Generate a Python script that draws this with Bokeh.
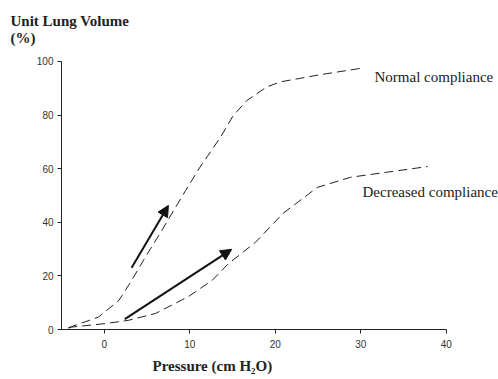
from bokeh.plotting import figure
from bokeh.models import Label, Arrow, NormalHead, Range1d, FixedTicker, Title
from bokeh.embed import file_html
from bokeh.resources import INLINE

# Data
normal_x = [-4.2, -3.8, -0.7, 1.7, 3.2, 4.8, 6.7, 9.5, 11.2, 13.6, 15.1, 16.7, 19.0, 20.6, 25.3, 29.9]
normal_y = [0.7, 1.1, 4.6, 10.8, 18.3, 27.0, 36.8, 51.8, 60.6, 71.8, 79.9, 85.5, 90.5, 92.4, 95.1, 97.4]
decreased_x = [-4.2, -3.8, 0.1, 2.8, 6.0, 9.8, 12.6, 14.5, 17.7, 20.9, 24.9, 28.8, 37.8]
decreased_y = [0.5, 0.9, 2.2, 3.4, 6.0, 12.2, 18.3, 24.5, 32.6, 43.3, 53.0, 56.8, 60.8]
x_ticks = [0, 10, 20, 30, 40]
y_ticks = [0, 20, 40, 60, 80, 100]
arrow_normal = (3.2, 23.0, 7.5, 46.3)
arrow_decreased = (2.4, 3.9, 14.9, 29.9)

p = figure(width=498, height=379, output_backend="svg", toolbar_location=None,
           x_range=Range1d(-5, 46.1), y_range=Range1d(0, 104.85),
           min_border_left=61, min_border_right=0, min_border_top=48, min_border_bottom=50)
p.outline_line_color = None
p.xgrid.visible = False
p.ygrid.visible = False
p.background_fill_color = "white"

for ax, ticks in ((p.xaxis, x_ticks), (p.yaxis, y_ticks)):
    ax.ticker = FixedTicker(ticks=ticks)
    ax.minor_tick_line_color = None
    ax.major_tick_in = 0
    ax.major_tick_out = 4
    ax.axis_line_color = "#222222"
    ax.major_tick_line_color = "#222222"
    ax.major_label_text_font = "Liberation Sans"
    ax.major_label_text_font_size = "10px"
    ax.major_label_text_color = "#333333"
p.xaxis.bounds = (-5, 40)
p.yaxis.bounds = (0, 100)
p.xaxis.major_label_standoff = 6
p.yaxis.major_label_standoff = 4

p.line(normal_x, normal_y, line_color="#222222", line_width=1, line_dash="9 5")
p.line(decreased_x, decreased_y, line_color="#222222", line_width=1, line_dash="9 5")

for (x0, y0, x1, y1) in (arrow_normal, arrow_decreased):
    p.add_layout(Arrow(x_start=x0, y_start=y0, x_end=x1, y_end=y1,
                       line_width=2, line_color="#111111",
                       end=NormalHead(size=11, fill_color="#111111", line_color="#111111")))

serif = "Liberation Serif"
p.add_layout(Label(x=31.6, y=94.4, text="Normal compliance", text_font=serif,
                   text_font_size="15px", text_baseline="middle", text_color="#222222"))
p.add_layout(Label(x=30.2, y=51.4, text="Decreased compliance", text_font=serif,
                   text_font_size="15px", text_baseline="middle", text_color="#222222"))

# y-axis title (two lines, above the frame, left aligned)
p.add_layout(Title(text="Unit Lung Volume\n(%)", align="left", offset=-51, standoff=4,
                   text_font=serif, text_font_size="15px", text_font_style="bold",
                   text_line_height=1.1, text_color="#222222"), "above")

xlabel = Title(text="Pressure (cm H\u2082O)", align="left", offset=91, standoff=11,
               text_font=serif, text_font_size="15px", text_font_style="bold",
               text_line_height=1.0, text_color="#222222")
p.add_layout(xlabel, "below")

open("out.html", "w").write(file_html(p, INLINE))
